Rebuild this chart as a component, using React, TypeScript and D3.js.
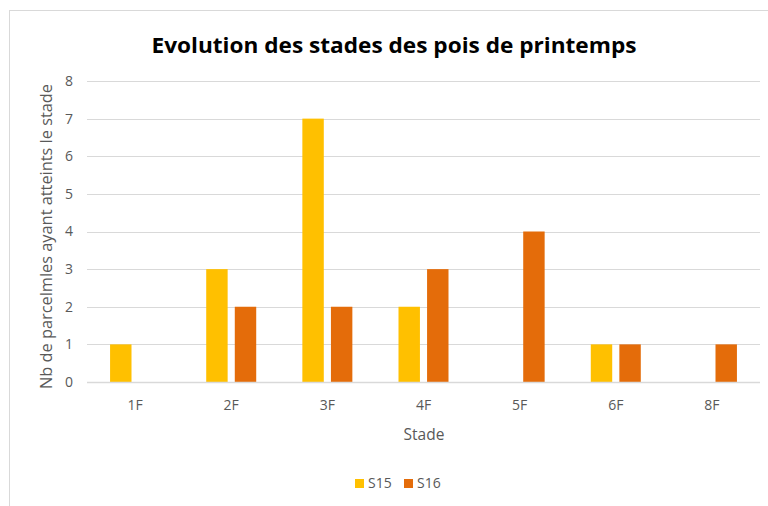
import React, { useEffect } from 'react';
import * as d3 from 'd3';

const categories = ['1F', '2F', '3F', '4F', '5F', '6F', '8F'];
const seriesNames = ['S15', 'S16'];
const s15 = [1, 3, 7, 2, 0, 1, 0];
const s16 = [0, 2, 2, 3, 4, 1, 1];
const yTicks = [0, 1, 2, 3, 4, 5, 6, 7, 8];
const colors = ['#FFC000', '#E46C0A'];

const W = 768;
const H = 506;
const FONT = '"Open Sans", "Noto Sans", sans-serif';

const App = () => {
  useEffect(() => {
    document.body.style.margin = '0';
  }, []);

  const margin = { top: 81, right: 8, bottom: 124, left: 87 };
  const plotW = W - margin.left - margin.right;
  const plotH = H - margin.top - margin.bottom;

  const x0 = d3.scaleBand().domain(categories).range([0, plotW]);
  const bw = x0.bandwidth();
  const groupW = 50;
  const x1 = d3.scaleBand()
    .domain(seriesNames)
    .range([(bw - groupW) / 2, (bw + groupW) / 2])
    .paddingInner(0.25);
  const y = d3.scaleLinear().domain([0, 8]).range([plotH, 0]);

  const values = [s15, s16];

  return (
    <svg width={W} height={H} style={{ display: 'block', fontFamily: FONT }}>
      <rect x={0} y={0} width={W} height={H} fill="#fff" />
      <rect x={9.5} y={10.5} width={W + 20} height={H + 20} fill="none" stroke="#D9D9D9" strokeWidth={1} />

      <text x={394} y={53} textAnchor="middle" fontSize={21.5} fontWeight="bold" fill="#000"
        textLength={485} lengthAdjust="spacingAndGlyphs">
        Evolution des stades des pois de printemps
      </text>

      <g transform={`translate(${margin.left},${margin.top})`}>
        {yTicks.map(t => (
          <g key={t}>
            <line x1={0} x2={plotW} y1={Math.round(y(t)) + 0.5} y2={Math.round(y(t)) + 0.5}
              stroke="#D9D9D9" strokeWidth={1} />
            <text x={-14} y={y(t)} dy="0.35em" textAnchor="end" fontSize={14} fill="#595959">{t}</text>
          </g>
        ))}

        {categories.map((c, i) => (
          <g key={c} transform={`translate(${x0(c)},0)`}>
            {seriesNames.map((s, j) => (
              values[j][i] > 0 ? (
                <rect key={s} x={x1(s)} y={y(values[j][i])} width={x1.bandwidth()}
                  height={y(0) - y(values[j][i])} fill={colors[j]} />
              ) : null
            ))}
            <text x={bw / 2} y={plotH + 28} textAnchor="middle" fontSize={14} fill="#595959">{c}</text>
          </g>
        ))}

        <line x1={0} x2={plotW} y1={Math.round(y(0)) + 0.5} y2={Math.round(y(0)) + 0.5} stroke="#D9D9D9" strokeWidth={1.5} />
      </g>

      <text x={424} y={440} textAnchor="middle" fontSize={15.5} fill="#595959">Stade</text>
      <text transform={`translate(52,${margin.top + plotH / 2 + 5}) rotate(-90)`} textAnchor="middle"
        fontSize={15.5} fill="#595959" textLength={305} lengthAdjust="spacingAndGlyphs">
        Nb de parcelmles ayant atteints le stade
      </text>

      {seriesNames.map((s, j) => (
        <g key={s} transform={`translate(${355 + j * 49},479)`}>
          <rect x={0} y={0} width={9} height={9} fill={colors[j]} />
          <text x={13} y={4.5} dy="0.35em" fontSize={14} fill="#595959">{s}</text>
        </g>
      ))}
    </svg>
  );
};

export default App;
